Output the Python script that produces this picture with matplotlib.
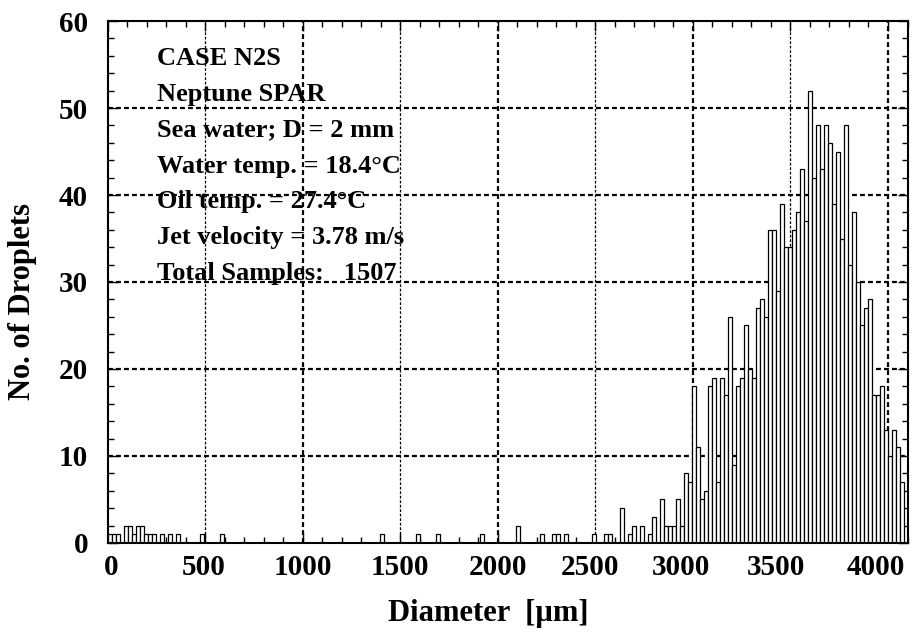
import matplotlib
matplotlib.use("Agg")
import matplotlib.pyplot as plt
import matplotlib.transforms as mtransforms
import numpy as np
from matplotlib.ticker import MultipleLocator

plt.rcParams["font.family"] = ["Liberation Serif", "DejaVu Serif"]
plt.rcParams["font.weight"] = "bold"

# Droplet size histogram: 200 bins of 20.5 um over 0-4100 um
bin_width = 20.5
counts = [
    1, 1, 1, 0, 2, 2, 1, 2, 2, 1, 1, 1, 0, 1, 0, 1, 0, 1, 0, 0,   # 0-19
    0, 0, 0, 1, 0, 0, 0, 0, 1, 0, 0, 0, 0, 0, 0, 0, 0, 0, 0, 0,   # 20-39
    0, 0, 0, 0, 0, 0, 0, 0, 0, 0, 0, 0, 0, 0, 0, 0, 0, 0, 0, 0,   # 40-59
    0, 0, 0, 0, 0, 0, 0, 0, 1, 0, 0, 0, 0, 0, 0, 0, 0, 1, 0, 0,   # 60-79
    0, 0, 1, 0, 0, 0, 0, 0, 0, 0, 0, 0, 0, 1, 0, 0, 0, 0, 0, 0,   # 80-99
    0, 0, 2, 0, 0, 0, 0, 0, 1, 0, 0, 1, 1, 0, 1, 0, 0, 0, 0, 0,   # 100-119
    0, 1, 0, 0, 1, 1, 0, 0, 4, 0, 1, 2, 0, 2, 0, 1, 3, 0, 5, 2,   # 120-139
    2, 2, 5, 2, 8, 7, 18, 11, 5, 6, 18, 19, 7, 19, 17, 26, 9, 18, 19, 25,   # 140-159
    20, 19, 27, 28, 26, 36, 36, 29, 39, 34, 34, 36, 38, 43, 37, 52, 42, 48, 43, 48,  # 160-179
    46, 39, 45, 35, 48, 32, 38, 30, 25, 27, 28, 17, 17, 18, 13, 10, 13, 11, 7, 0,   # 180-199
]
bin_left = np.arange(len(counts)) * bin_width

x_ticks = [0, 500, 1000, 1500, 2000, 2500, 3000, 3500, 4000]
# horizontal nudge (pixels) applied to each x tick label
x_label_shift = [4, -1, 0, 0, 0, -5, -12, -14, -12]

info_lines = [
    "CASE N2S",
    "Neptune SPAR",
    "Sea water; D = 2 mm",
    "Water temp. = 18.4\u00b0C",
    "Oil temp. = 27.4\u00b0C",
    "Jet velocity = 3.78 m/s",
    "Total Samples:   1507",
]

fig = plt.figure(figsize=(9.19, 6.38), dpi=100)
ax = fig.add_axes([0.117, 0.149, 0.8705, 0.818])

ax.bar(bin_left, counts, width=bin_width, align="edge",
       facecolor="white", edgecolor="black", linewidth=0.9, zorder=3)

ax.set_xlim(0, 4100)
ax.set_ylim(0, 60)

# dotted grid: heavier lines at the thousands
dots = (0, (2.2, 1.4))
for xv in x_ticks[1:]:
    lw = 1.6 if xv % 1000 == 0 else 0.9
    ax.axvline(xv, color="black", lw=lw, linestyle=dots, zorder=1)
for yv in range(10, 60, 10):
    ax.axhline(yv, color="black", lw=1.6, linestyle=dots, zorder=1)

ax.set_xticks(x_ticks)
ax.xaxis.set_minor_locator(MultipleLocator(100))
ax.yaxis.set_major_locator(MultipleLocator(10))
ax.yaxis.set_minor_locator(MultipleLocator(2))
ax.tick_params(which="both", direction="in", top=True, right=True, width=1.0)
ax.tick_params(which="major", length=7, labelsize=21)
ax.tick_params(axis="x", which="major", pad=8)
ax.tick_params(axis="y", which="major", pad=14)
ax.tick_params(which="minor", length=4)
for spine in ax.spines.values():
    spine.set_linewidth(1.5)
    spine.set_zorder(4)

fig.canvas.draw()
for lab, dx in zip(ax.get_xticklabels(), x_label_shift):
    off = mtransforms.ScaledTranslation(dx / 100, 0, fig.dpi_scale_trans)
    lab.set_transform(lab.get_transform() + off)

ax.set_xlabel("Diameter  [\u00b5m]", fontsize=22, fontweight="bold")
ax.set_ylabel("No. of Droplets", fontsize=22, fontweight="bold")
ax.xaxis.set_label_coords(0.476, -0.107)
ax.yaxis.set_label_coords(-0.088, 0.462)

y0 = 0.928
for i, line in enumerate(info_lines):
    ax.text(0.062, y0 - i * 0.0686, line, transform=ax.transAxes,
            fontsize=19, fontweight="bold", va="center", ha="left", zorder=5)

fig.savefig("out.png", dpi=100, facecolor="white")
